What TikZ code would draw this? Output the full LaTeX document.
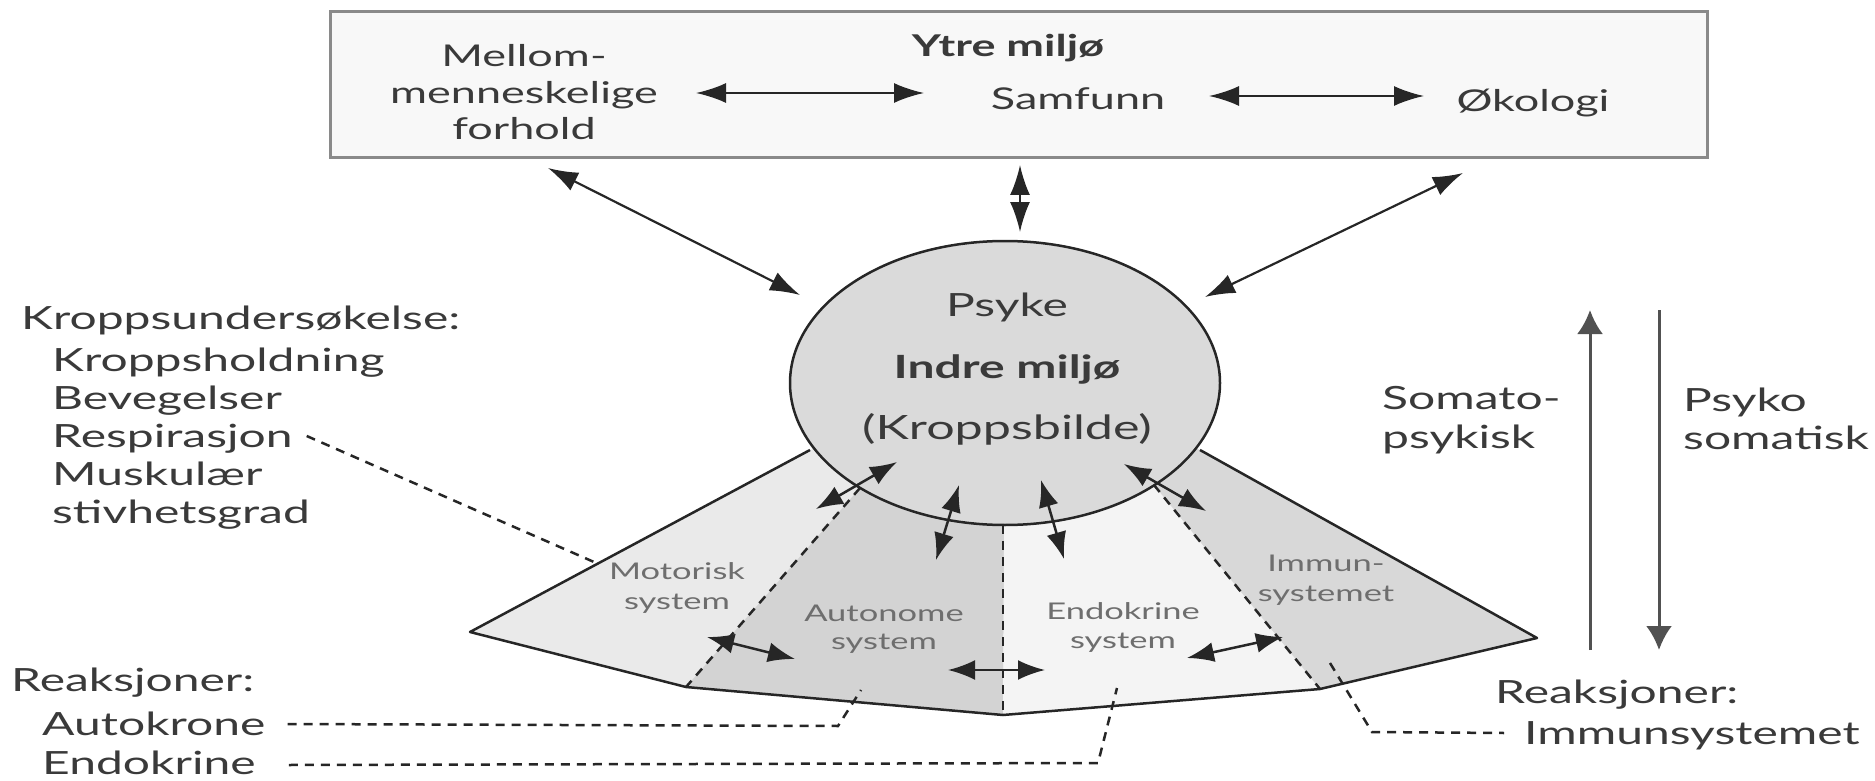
\documentclass[tikz,border=0pt]{standalone}
\usepackage{fontspec}
\usepackage{graphicx}
\setmainfont{Lato}
\usetikzlibrary{arrows.meta,shapes.geometric}
\definecolor{txtc}{HTML}{3A3A3A}
\definecolor{linec}{HTML}{262626}
\definecolor{fanlbl}{HTML}{6E6E6E}
\definecolor{fmot}{HTML}{EAEAEA}
\definecolor{faut}{HTML}{D3D3D3}
\definecolor{fend}{HTML}{F4F4F4}
\definecolor{fimm}{HTML}{D8D8D8}
\definecolor{fpsy}{HTML}{DADADA}
\definecolor{fbox}{HTML}{F8F8F8}
\definecolor{bboxc}{HTML}{8A8A8A}
\newcommand{\hs}[1]{\scalebox{1.5}[1]{#1}}
\begin{document}
\begin{tikzpicture}[x=1pt,y=-1pt,
  lbl/.style={inner sep=0pt, text=txtc, font=\fontsize{32}{38}\selectfont, text height=24pt, text depth=7pt, yshift=-3pt},
  toplbl/.style={inner sep=0pt, text=txtc, font=\fontsize{30}{36}\selectfont, text height=22pt, text depth=7pt, yshift=-4pt},
  fanl/.style={inner sep=0pt, text=fanlbl, font=\fontsize{23}{27}\selectfont, text height=17pt, text depth=5pt},
  dbl/.style={{Latex[length=30pt,width=20pt]}-{Latex[length=30pt,width=20pt]}, line width=2.2pt, draw=linec},
  dbls/.style={{Latex[length=27pt,width=20pt]}-{Latex[length=27pt,width=20pt]}, line width=2.5pt, draw=linec},
  sgl/.style={-{Latex[length=24pt,width=26pt]}, line width=3pt, draw=linec!80},
  dsh/.style={draw=linec, line width=2.5pt, dash pattern=on 9pt off 7pt},
  outl/.style={draw=linec, line width=2.5pt, line join=round}
]
\useasboundingbox (0,0) rectangle (1875,781);
% ---------- top box ----------
\node[draw=bboxc, line width=3pt, fill=fbox, inner sep=0pt, minimum width=1377pt, minimum height=146pt] (ytre) at (1018.5,85) {};
\node[toplbl, font=\fontsize{30}{36}\selectfont\bfseries] (ytrel) at (1008,45) {\hs{Ytre miljø}};
\node[toplbl] (mel1) at (524,55) {\hs{Mellom-}};
\node[toplbl] (mel2) at (524,92) {\hs{menneskelige}};
\node[toplbl] (mel3) at (524,128) {\hs{forhold}};
\node[toplbl] (samf) at (1078,98) {\hs{Samfunn}};
\node[toplbl] (okol) at (1533,100) {\hs{Økologi}};
\coordinate (t1a) at (696,93);  \coordinate (t1b) at (924,93);
\coordinate (t2a) at (1209,96); \coordinate (t2b) at (1424,96);
\draw[dbl] (t1a) -- (t1b);
\draw[dbl] (t2a) -- (t2b);
% ---------- fan ----------
\fill[fmot] (470,632) -- (810,450) -- (1005,383) -- (1200,450) -- (1537,638) -- (1320,689) -- (1003,715) -- (686,687) -- cycle;
\fill[faut] (860,488) -- (1005,383) -- (1003,715) -- (686,687) -- cycle;
\fill[fend] (1005,383) -- (1154,485) -- (1320,689) -- (1003,715) -- cycle;
\fill[fimm] (1154,485) -- (1005,383) -- (1200,450) -- (1537,638) -- (1320,689) -- cycle;
\coordinate (dl1) at (860,488); \coordinate (dl2) at (686,687);
\coordinate (dm1) at (1003,525); \coordinate (dm2) at (1003,715);
\coordinate (dr1) at (1154,485); \coordinate (dr2) at (1320,689);
\draw[dsh] (dl1) -- (dl2);
\draw[dsh] (dm1) -- (dm2);
\draw[dsh] (dr1) -- (dr2);
\draw[outl] (810,450) -- (470,632) -- (686,687) -- (1003,715) -- (1320,689) -- (1537,638) -- (1200,450);
% ---------- psyke ----------
\node[ellipse, draw=linec, line width=2.5pt, fill=fpsy, minimum width=430pt, minimum height=284pt, inner sep=0pt] (psyke) at (1005,383) {};
\node[lbl] (psy1) at (1007,305) {\hs{Psyke}};
\node[lbl, font=\fontsize{32}{38}\selectfont\bfseries] (psy2) at (1007,367) {\hs{Indre miljø}};
\node[lbl, font=\fontsize{33.5}{40}\selectfont] (psy3) at (1007,428) {\hs{(Kroppsbilde)}};
% box-psyke arrows
\coordinate (b1) at (548,168);  \coordinate (e1) at (800,295);
\coordinate (b2) at (1020,165); \coordinate (e2) at (1020,232);
\coordinate (b3) at (1463,173); \coordinate (e3) at (1205,297);
\draw[dbl] (b1) -- (e1);
\draw[dbl] (b2) -- (e2);
\draw[dbl] (b3) -- (e3);
% fan labels
\node[fanl] (mot1) at (677,573) {\hs{Motorisk}};
\node[fanl] (mot2) at (677,603) {\hs{system}};
\node[fanl] (aut1) at (884,615) {\hs{Autonome}};
\node[fanl] (aut2) at (884,643) {\hs{system}};
\node[fanl] (end1) at (1123,613) {\hs{Endokrine}};
\node[fanl] (end2) at (1123,642) {\hs{system}};
\node[fanl] (imm1) at (1326,565) {\hs{Immun-}};
\node[fanl] (imm2) at (1326,595) {\hs{systemet}};
% inner arrows
\coordinate (a1a) at (897,462);  \coordinate (a1b) at (816,509);
\coordinate (a2a) at (959,485);  \coordinate (a2b) at (936,560);
\coordinate (a3a) at (1041,480); \coordinate (a3b) at (1064,559);
\coordinate (a4a) at (1124,464); \coordinate (a4b) at (1206,511);
\coordinate (a5a) at (707,637);  \coordinate (a5b) at (795,659);
\coordinate (a6a) at (948,670);  \coordinate (a6b) at (1045,670);
\coordinate (a7a) at (1187,658); \coordinate (a7b) at (1283,637);
\foreach \p in {a1,a2,a3,a4,a5,a6,a7} {\draw[dbls] (\p a) -- (\p b);}
% ---------- left list ----------
\node[lbl, anchor=west] (ku) at (21,318) {\hs{Kroppsundersøkelse:}};
\node[lbl, anchor=west] (ku1) at (52,360) {\hs{Kroppsholdning}};
\node[lbl, anchor=west] (ku2) at (52,398) {\hs{Bevegelser}};
\node[lbl, anchor=west] (ku3) at (52,436) {\hs{Respirasjon}};
\node[lbl, anchor=west] (ku4) at (52,474) {\hs{Muskulær}};
\node[lbl, anchor=west] (ku5) at (52,512) {\hs{stivhetsgrad}};
\coordinate (rs2) at (594,562);
\draw[dsh] ([xshift=14pt,yshift=3pt]ku3.east) -- (rs2);
% ---------- bottom left ----------
\node[lbl, anchor=west] (rk) at (11,680) {\hs{Reaksjoner:}};
\node[lbl, anchor=west] (rk1) at (42,724) {\hs{Autokrone}};
\node[lbl, anchor=base west, text depth=0pt, yshift=0pt] (rk2) at (42,771) {\hs{Endokrine}};
\coordinate (ak1) at (838,726); \coordinate (ak2) at (861,690);
\coordinate (ek1) at (1098,763); \coordinate (ek2) at (1117,688);
\draw[dsh] ([xshift=22pt,yshift=3pt]rk1.east) -- (ak1) -- (ak2);
\draw[dsh] ([xshift=33pt]rk2.base east) ++(0,-9) -- (ek1) -- (ek2);
% ---------- right ----------
\node[lbl, anchor=west] (rr) at (1495,692) {\hs{Reaksjoner:}};
\node[lbl, anchor=west] (rr1) at (1524,733) {\hs{Immunsystemet}};
\coordinate (im1) at (1330,663); \coordinate (im2) at (1372,732);
\draw[dsh] (im1) -- (im2) -- ([xshift=-20pt,yshift=3pt]rr1.west);
\node[lbl, anchor=west] (so1) at (1382,398) {\hs{Somato-}};
\node[lbl, anchor=west] (so2) at (1382,437) {\hs{psykisk}};
\node[lbl, anchor=west] (ps1) at (1683,400) {\hs{Psyko}};
\node[lbl, anchor=west] (ps2) at (1683,438) {\hs{somatisk}};
\coordinate (up1) at (1590,650); \coordinate (up2) at (1590,310);
\coordinate (dn1) at (1659,310); \coordinate (dn2) at (1659,650);
\draw[sgl] (up1) -- (up2);
\draw[sgl] (dn1) -- (dn2);
\end{tikzpicture}
\end{document}
